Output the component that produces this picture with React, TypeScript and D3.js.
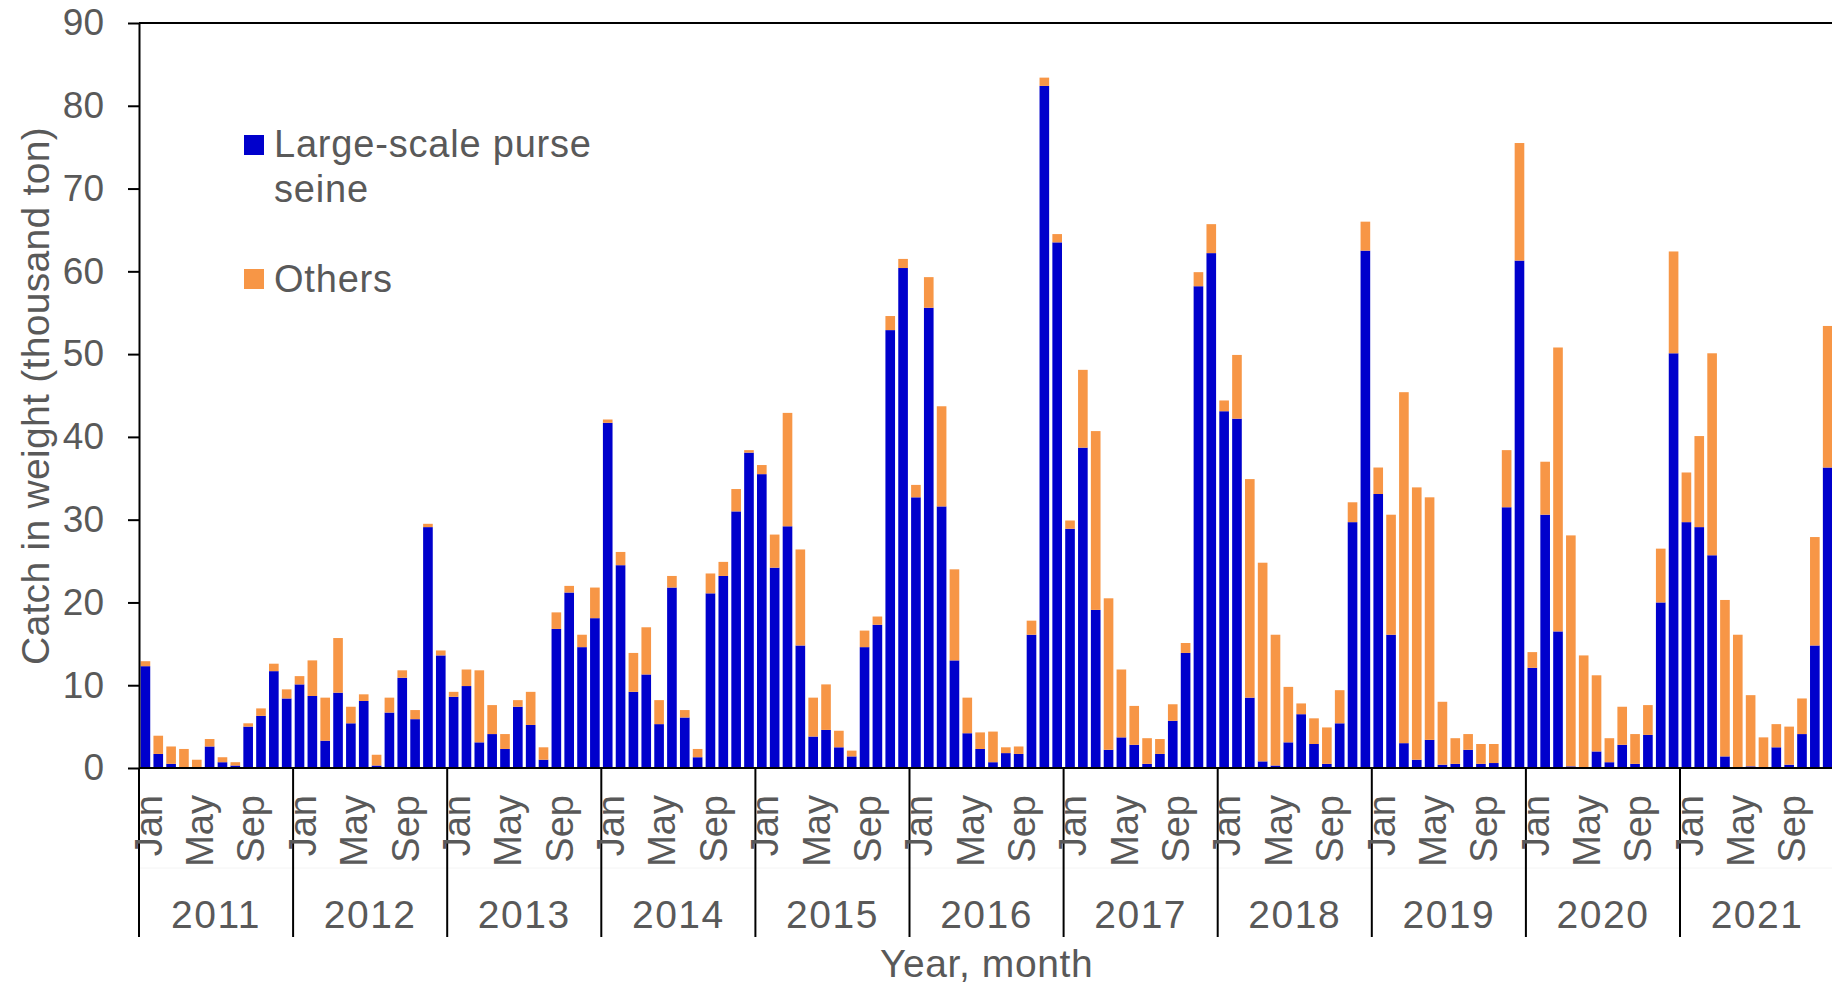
import React, { useRef, useEffect } from "react"
import * as d3 from "d3"

// Monthly catch (thousand ton), Jan 2011 .. Dec 2021, one line per year
const purseSeine: number[] = [
  12.3, 1.7, 0.5, 0.0, 0.0, 2.6, 0.7, 0.3, 5.0, 6.3, 11.7, 8.4,
  10.1, 8.7, 3.3, 9.1, 5.4, 8.1, 0.3, 6.7, 10.9, 5.9, 29.1, 13.6,
  8.6, 9.9, 3.1, 4.1, 2.3, 7.4, 5.2, 1.0, 16.8, 21.2, 14.6, 18.1,
  41.7, 24.5, 9.2, 11.3, 5.3, 21.8, 6.1, 1.3, 21.1, 23.2, 31.0, 38.1,
  35.5, 24.2, 29.2, 14.8, 3.8, 4.6, 2.5, 1.4, 14.6, 17.3, 52.9, 60.4,
  32.7, 55.6, 31.6, 13.0, 4.2, 2.3, 0.7, 1.8, 1.7, 16.1, 82.4, 63.5,
  28.9, 38.7, 19.1, 2.2, 3.7, 2.8, 0.5, 1.7, 5.7, 13.9, 58.2, 62.2,
  43.1, 42.2, 8.5, 0.8, 0.3, 3.1, 6.5, 2.9, 0.5, 5.4, 29.7, 62.5,
  33.1, 16.1, 3.0, 1.0, 3.4, 0.4, 0.5, 2.2, 0.5, 0.6, 31.5, 61.3,
  12.1, 30.6, 16.5, 0.2, 0.1, 2.0, 0.7, 2.8, 0.5, 4.0, 20.0, 50.1,
  29.7, 29.1, 25.7, 1.4, 0.1, 0.2, 0.1, 2.5, 0.4, 4.1, 14.8, 36.3,
]

const others: number[] = [
  0.6, 2.2, 2.1, 2.3, 1.0, 0.9, 0.6, 0.4, 0.4, 0.9, 0.9, 1.1,
  1.0, 4.3, 5.2, 6.6, 2.0, 0.8, 1.3, 1.8, 0.9, 1.1, 0.4, 0.6,
  0.6, 2.0, 8.7, 3.5, 1.8, 0.8, 4.0, 1.5, 2.0, 0.8, 1.5, 3.7,
  0.4, 1.6, 4.7, 5.7, 2.9, 1.4, 0.9, 1.0, 2.4, 1.7, 2.7, 0.3,
  1.1, 4.0, 13.7, 11.6, 4.7, 5.5, 2.0, 0.7, 2.0, 1.0, 1.7, 1.1,
  1.5, 3.7, 12.1, 11.0, 4.3, 2.0, 3.7, 0.7, 0.9, 1.7, 1.0, 1.0,
  1.0, 9.4, 21.6, 18.3, 8.2, 4.7, 3.1, 1.8, 2.0, 1.2, 1.7, 3.5,
  1.3, 7.7, 26.4, 24.0, 15.8, 6.7, 1.3, 3.1, 4.4, 4.0, 2.4, 3.5,
  3.2, 14.5, 42.4, 32.9, 29.3, 7.6, 3.1, 1.9, 2.4, 2.3, 6.9, 14.2,
  1.9, 6.4, 34.3, 27.9, 13.5, 9.2, 2.9, 4.6, 3.6, 3.6, 6.5, 12.3,
  6.0, 11.0, 24.4, 18.9, 16.0, 8.6, 3.6, 2.8, 4.6, 4.3, 13.1, 17.1,
]

const years: string[] = ["2011", "2012", "2013", "2014", "2015", "2016", "2017", "2018", "2019", "2020", "2021"]
const monthNames: string[] = ["Jan", "Feb", "Mar", "Apr", "May", "Jun", "Jul", "Aug", "Sep", "Oct", "Nov", "Dec"]
const shownMonths: string[] = ["Jan", "May", "Sep"]
const yTicks: number[] = [0, 10, 20, 30, 40, 50, 60, 70, 80, 90]

const seriesNames = ["Large-scale purse seine", "Others"]
const colors = ["#0000CC", "#F79646"]

const width = 1832
const height = 986
const FONT = "'Liberation Sans', Arial, sans-serif"
const TEXT = "#595959"

interface Row {
  idx: number
  purse: number
  others: number
}

const App: React.FC = () => {
  const svgRef = useRef<SVGSVGElement | null>(null)

  useEffect(() => {
    const svg = d3.select(svgRef.current)
    svg.selectAll("*").remove()

    const rows: Row[] = purseSeine.map((v, i) => ({ idx: i, purse: v, others: others[i] }))

    const left = 139
    const monthW = 154.1 / 12
    const right = left + monthW * rows.length
    const y0 = 768
    const yTop = 23

    const x = d3.scaleBand<number>()
      .domain(rows.map(r => r.idx))
      .range([left, right])
      .paddingInner(0.25)
      .paddingOuter(0.125)

    const yScale = d3.scaleLinear().domain([0, 90]).range([y0, yTop])

    const stack = d3.stack<Row>().keys(["purse", "others"])
    const layers = stack(rows)

    // BARS
    svg.append("g")
      .selectAll("g")
      .data(layers)
      .join("g")
      .attr("fill", (_d, i) => colors[i])
      .selectAll("rect")
      .data(d => d)
      .join("rect")
      .attr("x", d => x(d.data.idx) as number)
      .attr("width", x.bandwidth())
      .attr("y", d => yScale(d[1]))
      .attr("height", d => Math.max(0, yScale(d[0]) - yScale(d[1])))

    // Y AXIS
    const yAxis = d3.axisLeft(yScale)
      .tickValues(yTicks)
      .tickSize(11)
      .tickPadding(24)
      .tickSizeOuter(0)

    svg.append("g")
      .attr("transform", `translate(${left},0)`)
      .call(yAxis)
      .call(g => g.select(".domain").attr("stroke", "#000").attr("stroke-width", 2))
      .call(g => g.selectAll(".tick line").attr("stroke", "#000").attr("stroke-width", 2))
      .call(g => g.selectAll(".tick text")
        .attr("fill", TEXT)
        .attr("font-family", FONT)
        .attr("font-size", 37))

    // top border line
    svg.append("line")
      .attr("x1", left).attr("x2", width)
      .attr("y1", yScale(90)).attr("y2", yScale(90))
      .attr("stroke", "#000").attr("stroke-width", 2)

    // X AXIS (two levels: months, years)
    svg.append("line")
      .attr("x1", left).attr("x2", width)
      .attr("y1", y0).attr("y2", y0)
      .attr("stroke", "#000").attr("stroke-width", 2)

    svg.append("line")
      .attr("x1", left).attr("x2", width)
      .attr("y1", 868).attr("y2", 868)
      .attr("stroke", "#f4f4f4").attr("stroke-width", 1)

    const yearScale = d3.scaleBand<string>().domain(years).range([left, right])

    svg.append("g")
      .selectAll("line")
      .data(years)
      .join("line")
      .attr("x1", d => yearScale(d) as number)
      .attr("x2", d => yearScale(d) as number)
      .attr("y1", y0)
      .attr("y2", 937)
      .attr("stroke", "#000")
      .attr("stroke-width", 2)

    svg.append("g")
      .selectAll("text")
      .data(years)
      .join("text")
      .attr("x", d => (yearScale(d) as number) + yearScale.bandwidth() / 2)
      .attr("y", 928)
      .attr("text-anchor", "middle")
      .attr("fill", TEXT)
      .attr("font-family", FONT)
      .attr("font-size", 39)
      .attr("letter-spacing", 1.5)
      .text(d => d)

    const monthRows = rows.filter(r => shownMonths.includes(monthNames[r.idx % 12]))
    svg.append("g")
      .selectAll("text")
      .data(monthRows)
      .join("text")
      .attr("transform", r => `translate(${(x(r.idx) as number) + x.bandwidth() / 2 + 3},795) rotate(-90)`)
      .attr("dy", "0.35em")
      .attr("text-anchor", "end")
      .attr("fill", TEXT)
      .attr("font-family", FONT)
      .attr("font-size", 38)
      .text(r => monthNames[r.idx % 12])

    // AXIS TITLES
    svg.append("text")
      .attr("x", (left + right) / 2)
      .attr("y", 977)
      .attr("text-anchor", "middle")
      .attr("fill", TEXT)
      .attr("font-family", FONT)
      .attr("font-size", 39)
      .attr("letter-spacing", 0.6)
      .text("Year, month")

    svg.append("text")
      .attr("transform", `translate(35,396) rotate(-90)`)
      .attr("dy", "0.35em")
      .attr("text-anchor", "middle")
      .attr("fill", TEXT)
      .attr("font-family", FONT)
      .attr("font-size", 39)
      .attr("letter-spacing", 0.3)
      .text("Catch in weight (thousand ton)")

    // LEGEND
    const legend = svg.append("g").attr("font-family", FONT).attr("font-size", 38).attr("fill", TEXT)
      .attr("letter-spacing", 0.8)
    legend.append("rect").attr("x", 244).attr("y", 135).attr("width", 20).attr("height", 20).attr("fill", colors[0])
    legend.append("text").attr("x", 274).attr("y", 157).text("Large-scale purse")
    legend.append("text").attr("x", 274).attr("y", 202).text("seine")
    legend.append("rect").attr("x", 244).attr("y", 269).attr("width", 20).attr("height", 20).attr("fill", colors[1])
    legend.append("text").attr("x", 274).attr("y", 292).text(seriesNames[1])
  }, [])

  return (
    <svg
      ref={svgRef}
      width={width}
      height={height}
      style={{ position: "absolute", left: 0, top: 0, background: "#fff" }}
    ></svg>
  )
}

export default App
